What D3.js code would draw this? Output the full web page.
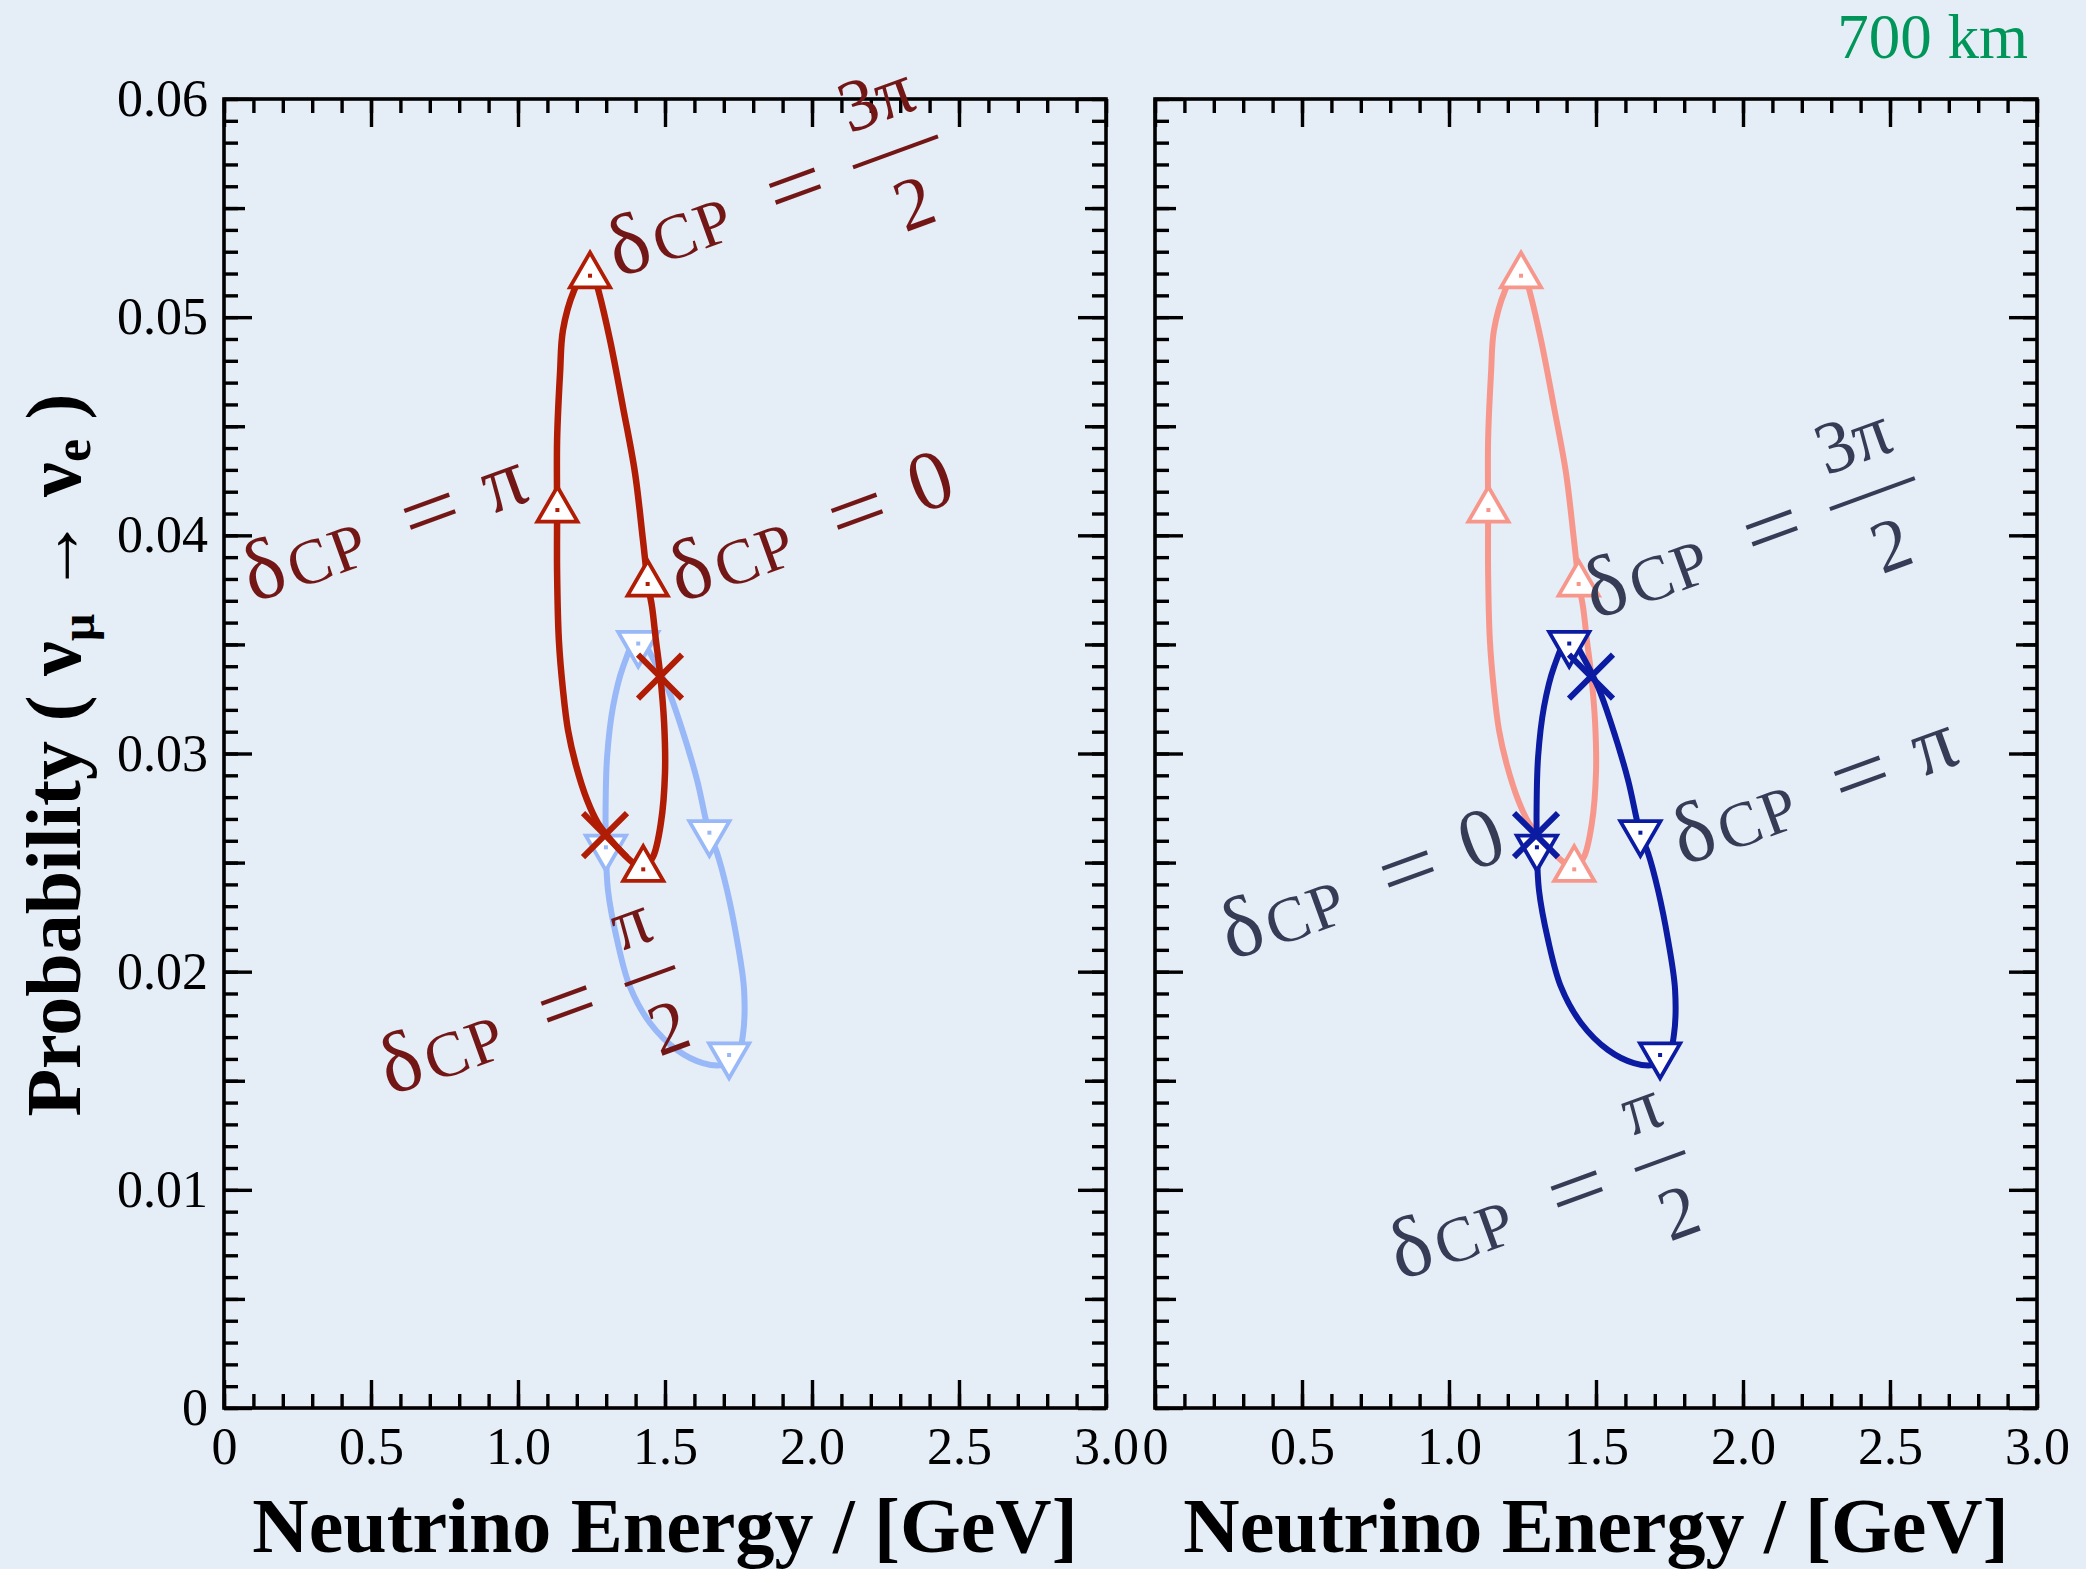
<!DOCTYPE html>
<html><head><meta charset="utf-8">
<script src="https://cdn.jsdelivr.net/npm/d3@7"></script>
<style>
html,body{margin:0;padding:0;background:#e5edf6;}
svg{display:block;}
</style></head><body>
<svg id="chart" width="2086" height="1569"></svg>
<script>
// ---------------- data ----------------
const xTickValues = [0, 0.5, 1.0, 1.5, 2.0, 2.5, 3.0];
const xTickLabels = ["0", "0.5", "1.0", "1.5", "2.0", "2.5", "3.0"];
const yTickValues = [0, 0.01, 0.02, 0.03, 0.04, 0.05, 0.06];
const yTickLabels = ["0", "0.01", "0.02", "0.03", "0.04", "0.05", "0.06"];

// neutrino (νμ→νe) oscillation-maximum loop while δCP runs round the circle
const nuEnergy = [1.245, 1.190, 1.153, 1.143, 1.133, 1.133, 1.133, 1.139, 1.153, 1.170, 1.197, 1.235, 1.272, 1.337, 1.388, 1.425, 1.459, 1.486, 1.500, 1.497, 1.483, 1.469, 1.456, 1.442, 1.425, 1.398, 1.357, 1.313, 1.274];
const nuProb   = [0.0525, 0.0512, 0.04941, 0.04744, 0.04437, 0.04116, 0.03827, 0.0352, 0.03291, 0.03108, 0.02947, 0.02787, 0.02681, 0.02571, 0.02503, 0.02471, 0.02526, 0.02681, 0.02911, 0.0314, 0.03369, 0.0352, 0.03671, 0.03777, 0.03979, 0.04286, 0.04588, 0.04895, 0.0512];
// antineutrino loop
const antiEnergy = [1.410, 1.357, 1.323, 1.303, 1.298, 1.299, 1.306, 1.337, 1.381, 1.449, 1.541, 1.629, 1.694, 1.745, 1.765, 1.769, 1.745, 1.711, 1.677, 1.650, 1.609, 1.551, 1.507, 1.449];
const antiProb   = [0.0354, 0.03396, 0.03213, 0.02984, 0.02755, 0.02571, 0.02374, 0.02145, 0.0193, 0.01765, 0.01641, 0.01581, 0.01572, 0.01609, 0.0171, 0.01916, 0.02145, 0.02374, 0.02544, 0.02636, 0.02879, 0.0314, 0.03305, 0.03461];

const deltaValues = ["0", "π/2", "π", "3π/2"];
const nuMarkEnergy   = [1.441, 1.426, 1.134, 1.245];
const nuMarkProb     = [0.03777, 0.02469, 0.04116, 0.0519];
const antiMarkEnergy = [1.299, 1.718, 1.651, 1.409];
const antiMarkProb   = [0.0257, 0.01618, 0.02637, 0.03504];
const crossEnergy = [1.483, 1.296];
const crossProb   = [0.03352, 0.02626];

// annotation anchors (data units) for the δCP labels
const nuLabelDelta  = ["3π/2", "π", "0", "π/2"];
const nuLabelE      = [1.398, 0.156, 1.609, 0.622];
const nuLabelP      = [0.05216, 0.03726, 0.03726, 0.01467];
const antiLabelDelta = ["3π/2", "π", "0", "π/2"];
const antiLabelE     = [1.554, 1.854, 0.316, 0.891];
const antiLabelP     = [0.03649, 0.02521, 0.02086, 0.00619];

const baselineText = "700 km";
const xTitle = "Neutrino Energy / [GeV]";

// ---------------- layout ----------------
const svg = d3.select("#chart");
const W = 2086, H = 1569;
svg.append("rect").attr("width", W).attr("height", H).attr("fill", "#e5edf6");

const panelLeft = [224, 1155];
const panelW = 882, plotTop = 99, plotBottom = 1408;
const SERIF = "'Liberation Serif','Times New Roman',serif";

const C = {
  red: "#b01c04", lightBlue: "#98b8f8", darkBlue: "#0c1ca2", pink: "#f7978c",
  redText: "#731616", slateText: "#373c56", green: "#00965a", axis: "#000"
};

const nuPts = nuEnergy.map((e, i) => [e, nuProb[i]]);
const antiPts = antiEnergy.map((e, i) => [e, antiProb[i]]);

function drawLabel(g, px, py, value, color) {
  const grp = g.append("g").attr("transform", `translate(${px},${py}) rotate(-20)`)
    .attr("fill", color).style("font-family", SERIF);
  grp.append("text").attr("x", 2).attr("y", 2).attr("text-anchor", "middle").style("font-size", "86px").text("δ");
  grp.append("text").attr("x", 27).attr("y", 4).style("font-size", "64px").style("letter-spacing", "2px").text("CP");
  grp.append("text").attr("x", 150).attr("y", 5).style("font-size", "88px")
    .attr("textLength", 58).attr("lengthAdjust", "spacingAndGlyphs").text("=");
  if (value.includes("/")) {
    const [num, den] = value.split("/");
    const nt = grp.append("text").attr("y", -55).attr("text-anchor", "middle").style("font-size", "74px").text(num);
    const dt = grp.append("text").attr("y", 57).attr("text-anchor", "middle").style("font-size", "74px").text(den);
    const wN = nt.node().getComputedTextLength(), wD = dt.node().getComputedTextLength();
    const bar = Math.max(wN, wD) + 16;
    const cx = 240 + bar / 2;
    nt.attr("x", cx); dt.attr("x", cx);
    grp.append("line").attr("x1", cx - bar / 2).attr("x2", cx + bar / 2).attr("y1", -22).attr("y2", -22)
      .attr("stroke", color).attr("stroke-width", 4);
  } else {
    grp.append("text").attr("x", 258).attr("y", 0).attr("text-anchor", "middle").style("font-size", "84px").text(value);
  }
}

function drawPanel(idx) {
  const x0 = panelLeft[idx];
  const x = d3.scaleLinear().domain([0, 3]).range([x0, x0 + panelW]);
  const y = d3.scaleLinear().domain([0, 0.06]).range([plotBottom, plotTop]);
  const g = svg.append("g");

  const styleAxis = sel => {
    sel.select(".domain").remove();
    sel.selectAll(".tick line").attr("stroke", C.axis).attr("stroke-width", 3.4);
    sel.selectAll(".tick text").attr("fill", "#000").style("font-family", SERIF).style("font-size", "52px");
  };
  const minorX = d3.range(0, 31).map(d => d / 10);
  const minorY = d3.range(0, 61).map(d => d / 1000);
  const midY = d3.range(0, 6).map(d => d / 100 + 0.005);

  g.append("g").attr("transform", `translate(0,${plotBottom})`)
    .call(d3.axisBottom(x).tickValues(minorX).tickSize(-14).tickFormat("")).call(styleAxis);
  g.append("g").attr("transform", `translate(0,${plotBottom})`)
    .call(d3.axisBottom(x).tickValues(xTickValues).tickSize(-28).tickPadding(19)
      .tickFormat((d, i) => xTickLabels[i])).call(styleAxis);
  g.append("g").attr("transform", `translate(0,${plotTop})`)
    .call(d3.axisTop(x).tickValues(minorX).tickSize(-14).tickFormat("")).call(styleAxis);
  g.append("g").attr("transform", `translate(0,${plotTop})`)
    .call(d3.axisTop(x).tickValues(xTickValues).tickSize(-28).tickFormat("")).call(styleAxis);
  g.append("g").attr("transform", `translate(${x0},0)`)
    .call(d3.axisLeft(y).tickValues(minorY).tickSize(-14).tickFormat("")).call(styleAxis);
  g.append("g").attr("transform", `translate(${x0},0)`)
    .call(d3.axisLeft(y).tickValues(midY).tickSize(-21).tickFormat("")).call(styleAxis);
  g.append("g").attr("transform", `translate(${x0},0)`)
    .call(d3.axisLeft(y).tickValues(yTickValues).tickSize(-28).tickPadding(16)
      .tickFormat((d, i) => idx === 0 ? yTickLabels[i] : "")).call(styleAxis);
  g.append("g").attr("transform", `translate(${x0 + panelW},0)`)
    .call(d3.axisRight(y).tickValues(minorY).tickSize(-14).tickFormat("")).call(styleAxis);
  g.append("g").attr("transform", `translate(${x0 + panelW},0)`)
    .call(d3.axisRight(y).tickValues(midY).tickSize(-21).tickFormat("")).call(styleAxis);
  g.append("g").attr("transform", `translate(${x0 + panelW},0)`)
    .call(d3.axisRight(y).tickValues(yTickValues).tickSize(-28).tickFormat("")).call(styleAxis);

  g.append("rect").attr("x", x0).attr("y", plotTop).attr("width", panelW).attr("height", plotBottom - plotTop)
    .attr("fill", "none").attr("stroke", C.axis).attr("stroke-width", 3.6);

  g.append("text").attr("x", x0 + panelW / 2).attr("y", 1552).attr("text-anchor", "middle")
    .style("font-family", SERIF).style("font-size", "78px").style("font-weight", "bold")
    .attr("fill", "#000").text(xTitle);

  const line = d3.line().x(d => x(d[0])).y(d => y(d[1])).curve(d3.curveCatmullRomClosed.alpha(0.5));

  const drawCurve = (pts, color, w) => g.append("path").attr("d", line(pts))
    .attr("fill", "none").attr("stroke", color).attr("stroke-width", w).attr("stroke-linejoin", "round");

  const drawMarkers = (E, P, color, inverted) => {
    const sym = d3.symbol().type(d3.symbolTriangle).size(700);
    E.forEach((e, i) => {
      const mg = g.append("g").attr("transform", `translate(${x(e)},${y(P[i])})`);
      mg.append("path").attr("d", sym()).attr("transform", inverted ? "rotate(180)" : null)
        .attr("fill", "#fff").attr("stroke", color).attr("stroke-width", 3.8);
      mg.append("rect").attr("x", -2).attr("y", -2).attr("width", 4).attr("height", 4).attr("fill", color);
    });
  };
  const drawCrosses = (color) => {
    crossEnergy.forEach((e, i) => {
      const cx = x(e), cy = y(crossProb[i]), s = 22;
      g.append("path").attr("d", `M${cx - s},${cy - s}L${cx + s},${cy + s}M${cx - s},${cy + s}L${cx + s},${cy - s}`)
        .attr("stroke", color).attr("stroke-width", 6).attr("fill", "none");
    });
  };

  if (idx === 0) {
    drawCurve(antiPts, C.lightBlue, 6);
    drawMarkers(antiMarkEnergy, antiMarkProb, C.lightBlue, true);
    drawCurve(nuPts, C.red, 6.5);
    drawMarkers(nuMarkEnergy, nuMarkProb, C.red, false);
    drawCrosses(C.red);
    nuLabelDelta.forEach((v, i) => drawLabel(g, x(nuLabelE[i]), y(nuLabelP[i]), v, C.redText));
  } else {
    drawCurve(nuPts, C.pink, 6);
    drawMarkers(nuMarkEnergy, nuMarkProb, C.pink, false);
    drawCurve(antiPts, C.darkBlue, 6);
    drawMarkers(antiMarkEnergy, antiMarkProb, C.darkBlue, true);
    drawCrosses(C.darkBlue);
    antiLabelDelta.forEach((v, i) => drawLabel(g, x(antiLabelE[i]), y(antiLabelP[i]), v, C.slateText));
  }
}

drawPanel(0);
drawPanel(1);

const yt = svg.append("text").attr("transform", "translate(80,755) rotate(-90)").attr("text-anchor", "middle")
  .style("font-family", SERIF).style("font-size", "78px").style("font-weight", "bold").attr("fill", "#000");
yt.append("tspan").text("Probability ( ν");
yt.append("tspan").attr("dy", 14).style("font-size", "48px").text("μ");
yt.append("tspan").attr("dy", -14).text(" → ν");
yt.append("tspan").attr("dy", 10).style("font-size", "52px").text("e");
yt.append("tspan").attr("dy", -10).text(" )");

svg.append("text").attr("x", 2028).attr("y", 58).attr("text-anchor", "end")
  .style("font-family", SERIF).style("font-size", "63px").attr("fill", C.green).text(baselineText);
</script>
</body></html>
